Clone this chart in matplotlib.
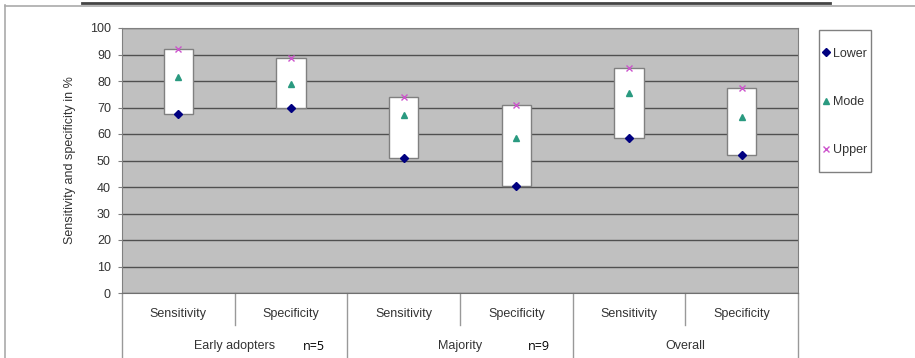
import matplotlib
matplotlib.use('Agg')
import matplotlib.pyplot as plt
from matplotlib.lines import Line2D
from matplotlib.patches import Rectangle

# data
categories = ['Sensitivity', 'Specificity', 'Sensitivity', 'Specificity', 'Sensitivity', 'Specificity']
groups = ['Early adopters', 'Majority', 'Overall']
group_n = ['n=5', 'n=9', '']
lower = [67.5, 70, 51, 40.5, 58.5, 52]
mode = [81.5, 79, 67, 58.5, 75.5, 66.5]
upper = [92, 88.5, 74, 71, 85, 77.5]

plt.rcParams['font.family'] = ['Liberation Sans', 'DejaVu Sans']
txt = '#333333'
fs = 9

fig = plt.figure(figsize=(9.15, 3.58), dpi=100)
W, H = 915.0, 358.0
ax = fig.add_axes([122 / W, 1 - 293 / H, (798 - 122) / W, (293 - 28) / H])
ax.set_facecolor('#c0c0c0')

x = list(range(len(categories)))
ax.set_xlim(-0.5, len(categories) - 0.5)
ax.set_ylim(0, 100)
ax.set_yticks(range(0, 101, 10))
ax.yaxis.grid(True, color='#505050', lw=1.0)
ax.set_axisbelow(True)

# white box from lower to upper
heights = [u - l for u, l in zip(upper, lower)]
ax.bar(x, heights, bottom=lower, width=0.26, color='white', edgecolor='#808080', lw=1.0, zorder=3)

h_low, = ax.plot(x, lower, ls='none', marker='D', ms=3.8, color='#000080', zorder=4, label='Lower')
h_mode, = ax.plot(x, mode, ls='none', marker='^', ms=3.8, color='#2a9a80', zorder=4, label='Mode')
h_up, = ax.plot(x, upper, ls='none', marker='x', ms=3.8, mew=1.0, color='#cc55cc', zorder=4, label='Upper')

for s in ax.spines.values():
    s.set_color('#808080')
ax.spines['bottom'].set_color('#707070')
ax.tick_params(axis='y', length=3, width=0.8, color='#808080', pad=5, labelsize=fs, labelcolor=txt)
ax.tick_params(axis='x', length=0, labelbottom=False)
ax.set_ylabel('Sensitivity and specificity in %', fontsize=fs, color=txt)
ax.yaxis.set_label_coords(-0.0676, 0.5)

# two-level category axis
tr = ax.get_xaxis_transform()
for i, c in enumerate(categories):
    ax.text(i, -0.079, c, transform=tr, ha='center', va='center', fontsize=fs, color=txt)
for i in range(len(groups)):
    cx = 2 * i + 0.5
    ax.text(cx, -0.2, groups[i], transform=tr, ha='center', va='center', fontsize=fs, color=txt)
    if group_n[i]:
        ax.text(cx + 0.7, -0.2, group_n[i], transform=tr, ha='center', va='center',
                fontsize=fs, color='black', family=['Open Sans', 'DejaVu Sans'])
    # inner separator
    ax.add_line(Line2D([cx, cx], [0, -0.12], transform=tr, color='#999999', lw=1, clip_on=False))
for b in [-0.5, 1.5, 3.5, 5.5]:
    ax.add_line(Line2D([b, b], [0, -0.24], transform=tr, color='#999999', lw=1, clip_on=False))

# legend: frame drawn separately so the vertical spacing can be tall
fig.add_artist(Rectangle((819 / W, 1 - 172 / H), 52 / W, 142 / H, transform=fig.transFigure,
                         facecolor='none', edgecolor='#808080', lw=1.0))
leg = ax.legend(handles=[h_low, h_mode, h_up], loc='center left',
                bbox_to_anchor=(823 / W, 1 - 102 / H), bbox_transform=fig.transFigure,
                borderaxespad=0, borderpad=0, fontsize=fs, labelspacing=2.9,
                handlelength=0.5, handletextpad=0.3, frameon=False)
for t in leg.get_texts():
    t.set_color(txt)

# page frame lines around the chart
fig.add_artist(Line2D([5 / W, 1], [1 - 5.5 / H, 1 - 5.5 / H], color='#aaaaaa', lw=1.2))
fig.add_artist(Line2D([82 / W, 830 / W], [1 - 2.5 / H, 1 - 2.5 / H], color='#444444', lw=2))
fig.add_artist(Line2D([5 / W, 5 / W], [0, 1 - 5 / H], color='#aaaaaa', lw=1.2))

fig.savefig('out.png', dpi=100)
